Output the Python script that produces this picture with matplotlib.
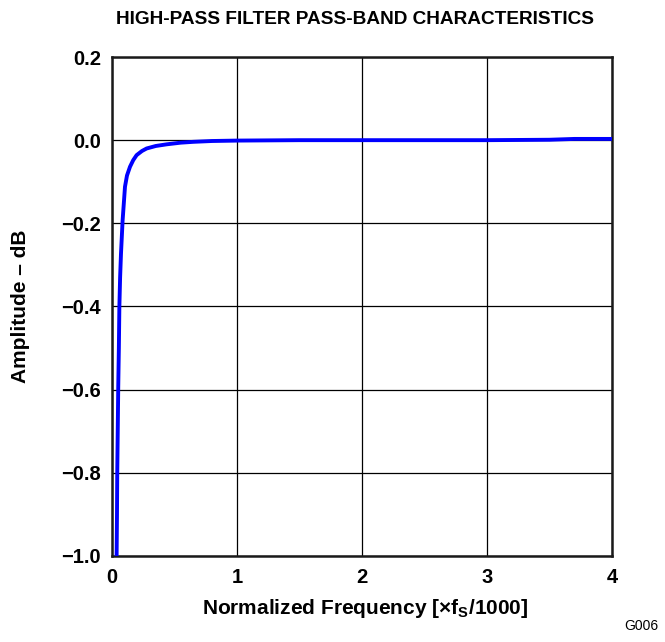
import matplotlib
matplotlib.use("Agg")
import matplotlib.pyplot as plt

plt.rcParams["font.family"] = ["Liberation Sans", "DejaVu Sans"]
plt.rcParams["mathtext.fontset"] = "custom"
plt.rcParams["mathtext.rm"] = "Liberation Sans:bold"
plt.rcParams["mathtext.bf"] = "Liberation Sans:bold"

# values
freq = [0.037, 0.040, 0.042, 0.046, 0.050, 0.055, 0.059, 0.065, 0.072, 0.085,
        0.104, 0.120, 0.144, 0.170, 0.197, 0.240, 0.277, 0.350, 0.437, 0.550,
        0.650, 0.800, 1.000, 1.500, 2.000, 2.500, 3.000, 3.500, 3.600, 3.700,
        4.000]
amp_db = [-1.000, -0.900, -0.803, -0.700, -0.594, -0.500, -0.402, -0.330, -0.273, -0.193,
          -0.112, -0.085, -0.064, -0.048, -0.036, -0.026, -0.020, -0.014, -0.010, -0.006,
          -0.004, -0.002, -0.001, 0.000, 0.000, 0.000, 0.000, 0.001, 0.002, 0.003,
          0.003]

x_ticks = [0, 1, 2, 3, 4]
y_ticks = [-1.0, -0.8, -0.6, -0.4, -0.2, 0.0, 0.2]
y_labels = ["\u22121.0", "\u22120.8", "\u22120.6", "\u22120.4", "\u22120.2", "0.0", "0.2"]

fig = plt.figure(figsize=(6.65, 6.42), dpi=100)
ax = fig.add_axes([0.1684, 0.1340, 0.7519, 0.7772])

ax.plot(freq, amp_db, color="#0000ff", linewidth=2.8, solid_capstyle="butt", zorder=3)

ax.set_xlim(0, 4)
ax.set_ylim(-1.0, 0.2)
ax.set_xticks(x_ticks)
ax.set_xticklabels([str(t) for t in x_ticks])
ax.set_yticks(y_ticks)
ax.set_yticklabels(y_labels)
ax.grid(True, color="black", linewidth=0.9)
ax.tick_params(length=0, labelsize=14.5)
ax.tick_params(axis="x", pad=9)
ax.tick_params(axis="y", pad=8)
for lbl in ax.get_xticklabels() + ax.get_yticklabels():
    lbl.set_fontweight("bold")
for sp in ax.spines.values():
    sp.set_linewidth(1.8)
    sp.set_color("#1a1a1a")

ax.set_xlabel(r"Normalized Frequency [$\times$f$_\mathrm{S}$/1000]",
              fontsize=15, fontweight="bold", va="center")
ax.xaxis.set_label_coords(0.506, -0.106)
ax.set_ylabel("Amplitude \u2013 dB", fontsize=15, fontweight="bold", va="center")
ax.yaxis.set_label_coords(-0.183, 0.5)

fig.text(355 / 665, 1 - 20 / 642, "HIGH-PASS FILTER PASS-BAND CHARACTERISTICS",
         ha="center", va="center", fontsize=13.7, fontweight="bold")
fig.text(641 / 665, 1 - 626 / 642, "G006", ha="center", va="center", fontsize=10)

fig.savefig("out.png", dpi=100)
